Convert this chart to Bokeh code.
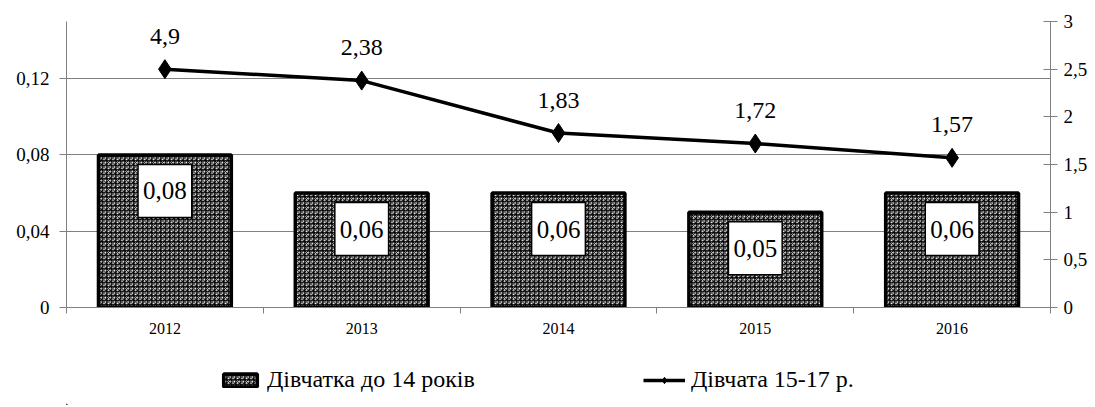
from bokeh.plotting import figure
from bokeh.models import (Range1d, LinearAxis, FixedTicker, ColumnDataSource, LabelSet,
                          Legend, LegendItem)
from bokeh.layouts import column
from bokeh.core.properties import value
from bokeh.embed import file_html
from bokeh.resources import INLINE

# ---- data ----
years = ["2012", "2013", "2014", "2015", "2016"]
girls_under14 = [0.08, 0.06, 0.06, 0.05, 0.06]
girls_under14_labels = ["0,08", "0,06", "0,06", "0,05", "0,06"]
girls_15_17 = [2.5, 2.38, 1.83, 1.72, 1.57]
girls_15_17_labels = ["4,9", "2,38", "1,83", "1,72", "1,57"]
left_ticks = [0, 0.04, 0.08, 0.12]
left_tick_labels = ["0", "0,04", "0,08", "0,12"]
right_ticks = [0, 0.5, 1, 1.5, 2, 2.5, 3]
right_tick_labels = ["0", "0,5", "1", "1,5", "2", "2,5", "3"]
series_names = ["Дівчатка до 14 років", "Дівчата 15-17 р."]

FONT = "Liberation Serif"
GRAY = "#808080"
BAR_STYLE = dict(fill_color="white", hatch_pattern="criss_cross", hatch_color="black",
                 hatch_scale=4.5, hatch_weight=1.0, line_color="black", line_width=3.5)
LINE_STYLE = dict(line_color="black", line_width=3.5)
MARK_STYLE = dict(marker="diamond", size=19, fill_color="black", line_color="black")

xs = [i + 0.5 for i in range(len(years))]
src = ColumnDataSource(dict(x=xs, bar=girls_under14, bar_lab=girls_under14_labels,
                            line=girls_15_17, line_lab=girls_15_17_labels))

p = figure(width=1092, height=352, output_backend="svg", toolbar_location=None,
           x_range=Range1d(0, len(years)), y_range=Range1d(0, 0.15),
           min_border_left=66, min_border_right=42, min_border_top=21, min_border_bottom=45)
p.outline_line_color = None
p.extra_y_ranges = {"right": Range1d(0, 3)}

# x axis
xa = p.xaxis[0]
xa.ticker = FixedTicker(ticks=xs, minor_ticks=list(range(len(years) + 1)))
xa.major_label_overrides = {x: y for x, y in zip(xs, years)}
xa.major_tick_out = 0
xa.major_tick_in = 0
xa.minor_tick_out = 6
xa.minor_tick_in = 0
xa.minor_tick_line_color = GRAY
xa.axis_line_color = GRAY
xa.major_label_text_font = FONT
xa.major_label_text_font_size = "16px"
xa.major_label_text_color = "black"
xa.major_label_standoff = 9

# left axis
ya = p.yaxis[0]
ya.ticker = FixedTicker(ticks=left_ticks, minor_ticks=[])
ya.major_label_overrides = {t: l for t, l in zip(left_ticks, left_tick_labels)}
ya.major_tick_out = 7
ya.major_tick_in = 0
ya.major_tick_line_color = GRAY
ya.axis_line_color = GRAY
ya.major_label_text_font = FONT
ya.major_label_text_font_size = "19px"
ya.major_label_text_color = "black"
ya.major_label_standoff = 10

# right axis
ra = LinearAxis(y_range_name="right")
ra.ticker = FixedTicker(ticks=right_ticks, minor_ticks=[])
ra.major_label_overrides = {t: l for t, l in zip(right_ticks, right_tick_labels)}
ra.major_tick_out = 7
ra.major_tick_in = 7
ra.major_tick_line_color = GRAY
ra.axis_line_color = GRAY
ra.major_label_text_font = FONT
ra.major_label_text_font_size = "19px"
ra.major_label_text_color = "black"
ra.major_label_standoff = 6
p.add_layout(ra, "right")

p.xgrid.grid_line_color = None
p.ygrid.ticker = FixedTicker(ticks=left_ticks)
p.ygrid.grid_line_color = GRAY
p.ygrid.grid_line_width = 1

# bars
p.vbar(x="x", top="bar", width=0.675, source=src, **BAR_STYLE)

p.text(x="x", y="bar", text="bar_lab", source=src,
       y_offset=36, text_align="center", text_baseline="middle",
       text_font=value(FONT), text_font_size="25px", text_color="black",
       background_fill_color="white", border_line_color="black",
       border_line_width=1.5, padding=(5, 18))

# line
p.line(x="x", y="line", source=src, y_range_name="right", **LINE_STYLE)
p.scatter(x="x", y="line", source=src, y_range_name="right", **MARK_STYLE)

line_labels = LabelSet(x="x", y="line", text="line_lab", source=src, y_range_name="right",
                       y_offset=33, text_align="center", text_baseline="middle",
                       text_font=value(FONT), text_font_size="24px", text_color="black")
p.add_layout(line_labels)

# legend strip (separate figure so it is not clipped by the plot frame)
lg = figure(width=1092, height=53, output_backend="svg", toolbar_location=None,
            x_range=Range1d(0, 1), y_range=Range1d(0, 1),
            x_axis_type=None, y_axis_type=None, min_border=0)
lg.outline_line_color = None
lg.grid.visible = False
offscreen = ColumnDataSource(dict(x=[-1000, -999], top=[-1000, -1000], y=[-1000, -1000]))
lb = lg.vbar(x="x", top="top", width=0.1, source=offscreen, **BAR_STYLE)
ll = lg.line(x="x", y="y", source=offscreen, **LINE_STYLE)
lm = lg.scatter(x="x", y="y", source=offscreen, **MARK_STYLE)

legend = Legend(items=[LegendItem(label=series_names[0], renderers=[lb], index=0),
                       LegendItem(label=series_names[1], renderers=[ll, lm], index=0)],
                orientation="horizontal", location=(153, 12),
                glyph_width=42, glyph_height=16, spacing=168, label_standoff=6,
                label_text_font=FONT, label_text_font_size="24px", label_text_color="black",
                background_fill_alpha=0, border_line_color=None,
                padding=3, margin=0)
lg.add_layout(legend, "center")

layout = column(p, lg, spacing=0)
open("out.html", "w").write(file_html(layout, INLINE))
